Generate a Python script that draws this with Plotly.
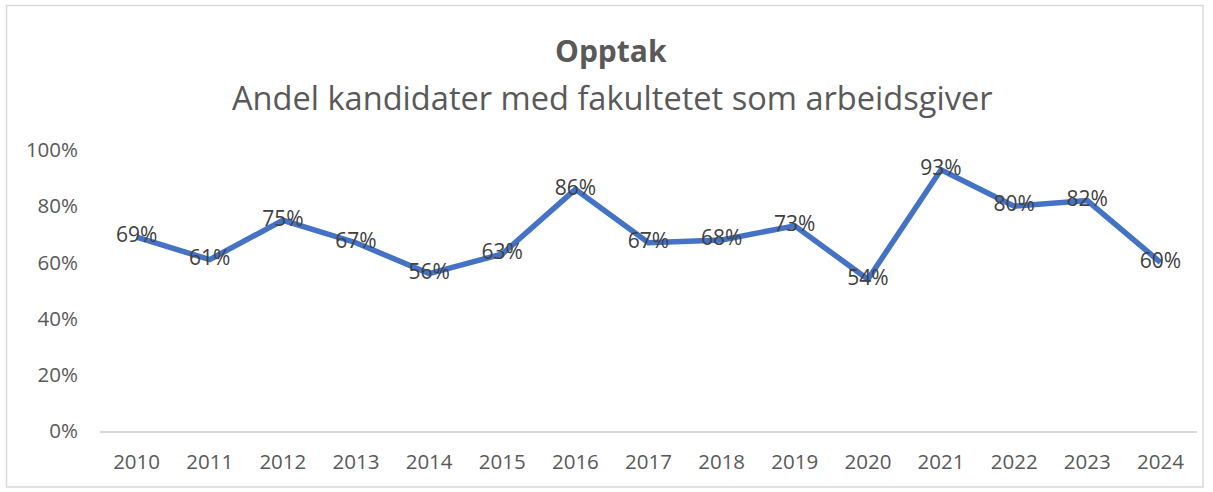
import plotly.graph_objects as go

years = [str(y) for y in range(2010, 2025)]
values = [0.69, 0.61, 0.75, 0.67, 0.56, 0.63, 0.86, 0.67, 0.68, 0.73, 0.54, 0.93, 0.80, 0.82, 0.60]
labels = [f"{round(v*100)}%" for v in values]
title = "Opptak"
subtitle = "Andel kandidater med fakultetet som arbeidsgiver"

W, H = 1213, 492
L, R, T, B = 100, 16, 150, 61
pw = W - L - R
ph = H - T - B

def px(x):
    return (x - L) / pw

def py(y):
    return (H - B - y) / ph

fig = go.Figure()
fig.add_trace(go.Scatter(
    x=years, y=values, mode="lines+text", text=labels,
    textposition="middle center",
    textfont=dict(family="Open Sans", size=21, color="#404040"),
    line=dict(color="#4472C4", width=5.5),
    hoverinfo="skip", showlegend=False,
))

fig.update_layout(
    width=W, height=H,
    margin=dict(l=L, r=R, t=T, b=B),
    paper_bgcolor="white", plot_bgcolor="white",
    font=dict(family="Open Sans", color="#595959"),
    xaxis=dict(type="category", range=[-0.5, 14.5], showgrid=False,
               showline=True, linecolor="#d9d9d9", linewidth=1.5,
               ticks="", tickfont=dict(size=20.5, color="#595959"),
               ticklabelstandoff=12, zeroline=False),
    yaxis=dict(range=[0, 1.0], tickvals=[0, 0.2, 0.4, 0.6, 0.8, 1.0],
               tickformat=".0%", showgrid=False, zeroline=False,
               showline=False, ticks="",
               tickfont=dict(size=20.5, color="#595959"), ticklabelstandoff=21),
    shapes=[dict(type="rect", xref="paper", yref="paper",
                 x0=px(6.5), x1=px(1203), y0=py(487), y1=py(5.5),
                 line=dict(color="#d9d9d9", width=1.5), layer="below")],
    annotations=[
        dict(text=f"<b>{title}</b>", xref="paper", yref="paper",
             x=px(611), y=py(50), xanchor="center", yanchor="middle",
             showarrow=False, font=dict(size=30, color="#595959")),
        dict(text=subtitle, xref="paper", yref="paper",
             x=px(612), y=py(97), xanchor="center", yanchor="middle",
             showarrow=False, font=dict(size=32.6, color="#595959")),
    ],
)

fig.write_html("out.html")
